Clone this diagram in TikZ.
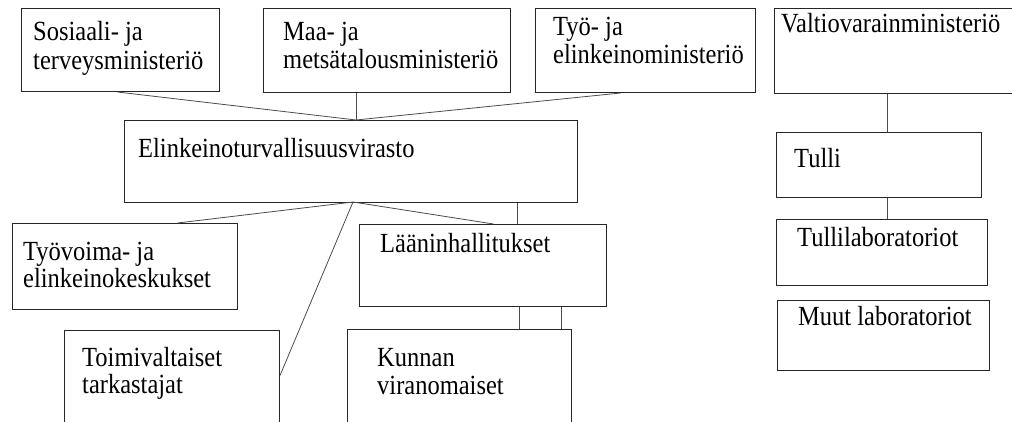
\documentclass[tikz,border=0pt]{standalone}
\usepackage{fontspec}
\setmainfont{Liberation Serif}
\newcommand{\talltxt}[1]{\scalebox{1}[1.13]{#1}}
\begin{document}
\begin{tikzpicture}[x=1pt,y=-1pt,
  box/.style={draw=black!85,line width=1pt,inner sep=0pt,anchor=north west,fill=white},
  conn/.style={draw=black!70,line width=0.8pt},
  txt/.style={font=\fontsize{24.5}{28}\selectfont,inner sep=0pt,anchor=base west,text=black}]
\useasboundingbox (0,0) rectangle (1012,421);
\clip (0,0) rectangle (1012,421);
\fill[white] (0,0) rectangle (1012,421);
% boxes
\node[box,minimum width=198pt,minimum height=83pt] (sos) at (21,8) {};
\node[box,minimum width=247pt,minimum height=84pt] (maa) at (263,8) {};
\node[box,minimum width=220pt,minimum height=84pt] (tyo) at (535,8) {};
\node[box,minimum width=245pt,minimum height=85pt] (val) at (774,8) {};
\node[box,minimum width=453pt,minimum height=82pt] (elk) at (124,120) {};
\node[box,minimum width=225pt,minimum height=86pt] (tyv) at (12,223) {};
\node[box,minimum width=215pt,minimum height=110pt] (toi) at (64,330) {};
\node[box,minimum width=247pt,minimum height=82pt] (lan) at (359,224) {};
\node[box,minimum width=224pt,minimum height=110pt] (kun) at (347,329) {};
\node[box,minimum width=205pt,minimum height=65pt] (tul) at (776,132) {};
\node[box,minimum width=211pt,minimum height=66pt] (tlab) at (776,219) {};
\node[box,minimum width=212pt,minimum height=70pt] (muut) at (777,300) {};
% texts
\node[txt] (sosA) at (33,40.5) {\talltxt{Sosiaali- ja}};
\node[txt] (sosB) at (33,69) {\talltxt{terveysministeriö}};
\node[txt] (maaA) at (283,40) {\talltxt{Maa- ja}};
\node[txt] (maaB) at (283,68.5) {\talltxt{metsätalousministeriö}};
\node[txt] (tyoA) at (553,35) {\talltxt{Työ- ja}};
\node[txt] (tyoB) at (553,63) {\talltxt{elinkeinoministeriö}};
\node[txt] (valA) at (781,32) {\talltxt{Valtiovarainministeriö}};
\node[txt] (elkA) at (138,157) {\talltxt{Elinkeinoturvallisuusvirasto}};
\node[txt] (tyvA) at (23,260) {\talltxt{Työvoima- ja}};
\node[txt] (tyvB) at (23,287) {\talltxt{elinkeinokeskukset}};
\node[txt] (toiA) at (82,366) {\talltxt{Toimivaltaiset}};
\node[txt] (toiB) at (82,393) {\talltxt{tarkastajat}};
\node[txt] (lanA) at (380,252) {\talltxt{Lääninhallitukset}};
\node[txt] (kunA) at (377,366) {\talltxt{Kunnan}};
\node[txt] (kunB) at (377,394) {\talltxt{viranomaiset}};
\node[txt] (tulA) at (794,167.5) {\talltxt{Tulli}};
\node[txt] (tlabA) at (797,246) {\talltxt{Tullilaboratoriot}};
\node[txt] (muutA) at (798,325) {\talltxt{Muut laboratoriot}};
% junction coordinates
\coordinate (j1) at (356,120);
\coordinate (j2) at (353,202);
\coordinate (v1) at (517,0);
\coordinate (v2) at (519,0);
\coordinate (v3) at (561,0);
\coordinate (v4) at (887,0);
% connectors
\draw[conn] ([xshift=-3pt]sos.south) -- (j1);
\draw[conn] (maa.south -| j1) -- (j1);
\draw[conn] ([xshift=-25pt]tyo.south) -- (j1);
\draw[conn] (j2) -- ([xshift=52.5pt]tyv.north);
\draw[conn] (j2) -- ([yshift=10pt]toi.east);
\draw[conn] (j2) -- ([xshift=10.5pt]lan.north);
\draw[conn] (elk.south -| v1) -- (lan.north -| v1);
\draw[conn] (lan.south -| v2) -- (kun.north -| v2);
\draw[conn] (lan.south -| v3) -- (kun.north -| v3);
\draw[conn] (val.south -| v4) -- (tul.north -| v4);
\draw[conn] (tul.south -| v4) -- (tlab.north -| v4);
\end{tikzpicture}
\end{document}
